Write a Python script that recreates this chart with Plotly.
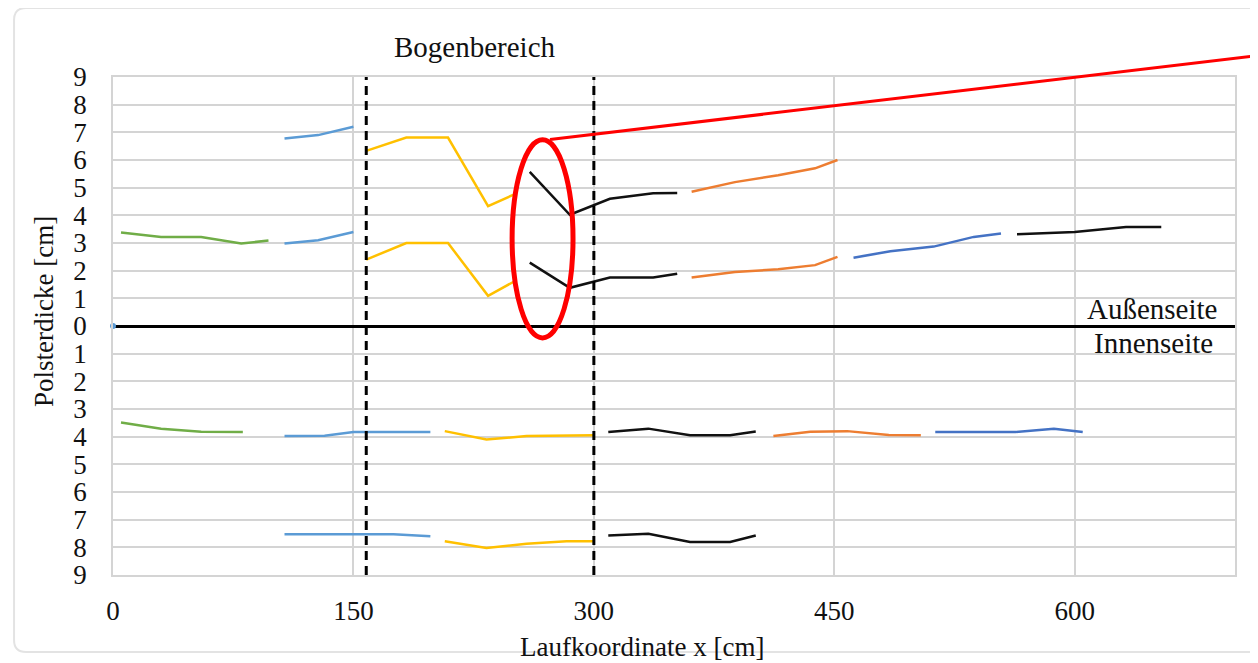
import plotly.graph_objects as go

# ---------------- data ----------------
# Außenseite (positive side)
green_out_x = [5, 30, 55, 80, 97]
green_out_lo = [3.38, 3.22, 3.22, 2.98, 3.09]

blue1_out_x = [107, 128, 150]
blue1_out_hi = [6.78, 6.90, 7.20]
blue1_out_lo = [2.98, 3.10, 3.40]

yellow_out_x = [158, 183, 209, 234, 250]
yellow_out_hi = [6.33, 6.81, 6.81, 4.33, 4.75]
yellow_out_lo = [2.40, 3.00, 3.00, 1.09, 1.60]

black1_out_x = [260, 285, 310, 337, 352]
black1_out_hi = [5.57, 4.02, 4.60, 4.80, 4.81]
black1_out_lo = [2.29, 1.38, 1.75, 1.75, 1.89]

orange_out_x = [361, 388, 415, 438, 452]
orange_out_hi = [4.85, 5.20, 5.45, 5.70, 6.00]
orange_out_lo = [1.75, 1.95, 2.05, 2.20, 2.50]

blue2_out_x = [462, 485, 512, 537, 554]
blue2_out_lo = [2.47, 2.70, 2.87, 3.22, 3.34]

black2_out_x = [564, 600, 632, 654]
black2_out_lo = [3.32, 3.40, 3.58, 3.58]

# Innenseite (negative side)
green_in_x = [5, 30, 55, 81]
green_in_a = [-3.49, -3.71, -3.82, -3.83]

blue1_in_x = [107, 132, 150, 175, 198]
blue1_in_a = [-3.98, -3.97, -3.83, -3.83, -3.83]
blue1_in_b = [-7.53, -7.53, -7.53, -7.53, -7.60]

yellow_in_x = [207, 233, 258, 283, 300]
yellow_in_a = [-3.80, -4.10, -3.98, -3.95, -3.95]
yellow_in_b = [-7.78, -8.02, -7.87, -7.78, -7.78]

black_in_x = [309, 334, 360, 385, 401]
black_in_a = [-3.83, -3.71, -3.95, -3.95, -3.81]
black_in_b = [-7.57, -7.51, -7.81, -7.81, -7.57]

orange_in_x = [412, 435, 458, 484, 504]
orange_in_a = [-3.98, -3.82, -3.80, -3.94, -3.95]

blue2_in_x = [513, 538, 563, 587, 605]
blue2_in_a = [-3.83, -3.83, -3.83, -3.71, -3.83]

origin_x = [0]
origin_y = [0]

bogen_bounds = [158, 300]
x_ticks = [0, 150, 300, 450, 600]
y_ticks = list(range(-9, 10))
y_tick_text = [str(abs(v)) for v in y_ticks]

# ---------------- styles ----------------
BLUE = "#5B9BD5"
BLUE2 = "#4472C4"
ORANGE = "#ED7D31"
YELLOW = "#FFC000"
GREEN = "#70AD47"
BLACK = "#111111"
FONT = "Liberation Serif"
TXT = "#111111"

series = [
    (green_out_x, green_out_lo, GREEN),
    (blue1_out_x, blue1_out_hi, BLUE), (blue1_out_x, blue1_out_lo, BLUE),
    (yellow_out_x, yellow_out_hi, YELLOW), (yellow_out_x, yellow_out_lo, YELLOW),
    (black1_out_x, black1_out_hi, BLACK), (black1_out_x, black1_out_lo, BLACK),
    (orange_out_x, orange_out_hi, ORANGE), (orange_out_x, orange_out_lo, ORANGE),
    (blue2_out_x, blue2_out_lo, BLUE2),
    (black2_out_x, black2_out_lo, BLACK),
    (green_in_x, green_in_a, GREEN),
    (blue1_in_x, blue1_in_a, BLUE), (blue1_in_x, blue1_in_b, BLUE),
    (yellow_in_x, yellow_in_a, YELLOW), (yellow_in_x, yellow_in_b, YELLOW),
    (black_in_x, black_in_a, BLACK), (black_in_x, black_in_b, BLACK),
    (orange_in_x, orange_in_a, ORANGE),
    (blue2_in_x, blue2_in_a, BLUE2),
]

fig = go.Figure()
for xs, ys, col in series:
    fig.add_trace(go.Scatter(x=xs, y=ys, mode="lines",
                             line=dict(color=col, width=2.5),
                             showlegend=False, hoverinfo="skip"))

fig.add_trace(go.Scatter(x=origin_x, y=origin_y, mode="markers",
                         marker=dict(color=BLUE, size=6),
                         showlegend=False, hoverinfo="skip", cliponaxis=False))

# dashed boundaries of the bend region
for xb in bogen_bounds:
    fig.add_shape(type="line", xref="x", yref="y", x0=xb, x1=xb, y0=-9, y1=9,
                  line=dict(color="black", width=3, dash="9px,6px"))

# red highlight ellipse and pointer line
fig.add_shape(type="circle", xref="x", yref="y", x0=249.0, x1=287, y0=-0.43, y1=6.73,
              line=dict(color="#FF0000", width=5))
fig.add_shape(type="line", xref="paper", yref="paper", x0=0.3895, y0=0.8745,
              x1=1.0312, y1=1.046, line=dict(color="#FF0000", width=3))

# rounded outer frame (paper coordinates)
L, R, T, B = -0.0882, 1.03, 1.1386, -0.1546
rx, ry = 0.0107, 0.0241
path = (f"M {L+rx},{T} L {R},{T} M {L+rx},{T} Q {L},{T} {L},{T-ry} "
        f"L {L},{B+ry} Q {L},{B} {L+rx},{B} L {R},{B}")
fig.add_shape(type="path", xref="paper", yref="paper", path=path,
              line=dict(color="#E3E3E3", width=2))

ann_font = dict(family=FONT, size=29, color=TXT)
fig.add_annotation(text="Bogenbereich", xref="paper", yref="paper", x=0.3226, y=1.0602,
                   showarrow=False, xanchor="center", yanchor="middle",
                   font=dict(family=FONT, size=29, color=TXT))
fig.add_annotation(text="Außenseite", xref="paper", yref="paper", x=0.9857, y=0.534,
                   showarrow=False, xanchor="right", yanchor="middle", font=ann_font)
fig.add_annotation(text="Innenseite", xref="paper", yref="paper", x=0.9822, y=0.4659,
                   showarrow=False, xanchor="right", yanchor="middle", font=ann_font)
fig.add_annotation(text="Laufkoordinate x [cm]", xref="paper", yref="paper",
                   x=0.4715, y=-0.1446, showarrow=False, xanchor="center",
                   yanchor="middle", font=dict(family=FONT, size=27, color=TXT))
fig.add_annotation(text="Polsterdicke [cm]", xref="paper", yref="paper",
                   x=-0.0615, y=0.530, showarrow=False, textangle=-90,
                   xanchor="center", yanchor="middle",
                   font=dict(family=FONT, size=27, color=TXT))

fig.update_layout(
    width=1250, height=655,
    margin=dict(l=105, r=23, t=69, b=88),
    paper_bgcolor="white", plot_bgcolor="white",
    font=dict(family=FONT, color=TXT),
    xaxis=dict(range=[0, 700], tickvals=x_ticks, showgrid=True,
               gridcolor="#D4D4D4", gridwidth=1.5, zeroline=False,
               showline=True, mirror=True, linecolor="#D4D4D4", linewidth=1.5,
               ticks="", ticklabelstandoff=11,
               tickfont=dict(family=FONT, size=27, color=TXT)),
    yaxis=dict(range=[-9, 9], tickvals=y_ticks, ticktext=y_tick_text,
               showgrid=True, gridcolor="#D4D4D4", gridwidth=1.5,
               zeroline=True, zerolinecolor="black", zerolinewidth=3,
               showline=True, mirror=True, linecolor="#D4D4D4", linewidth=1.5,
               ticks="", ticklabelstandoff=19,
               tickfont=dict(family=FONT, size=27, color=TXT)),
)

fig.write_html("out.html")
